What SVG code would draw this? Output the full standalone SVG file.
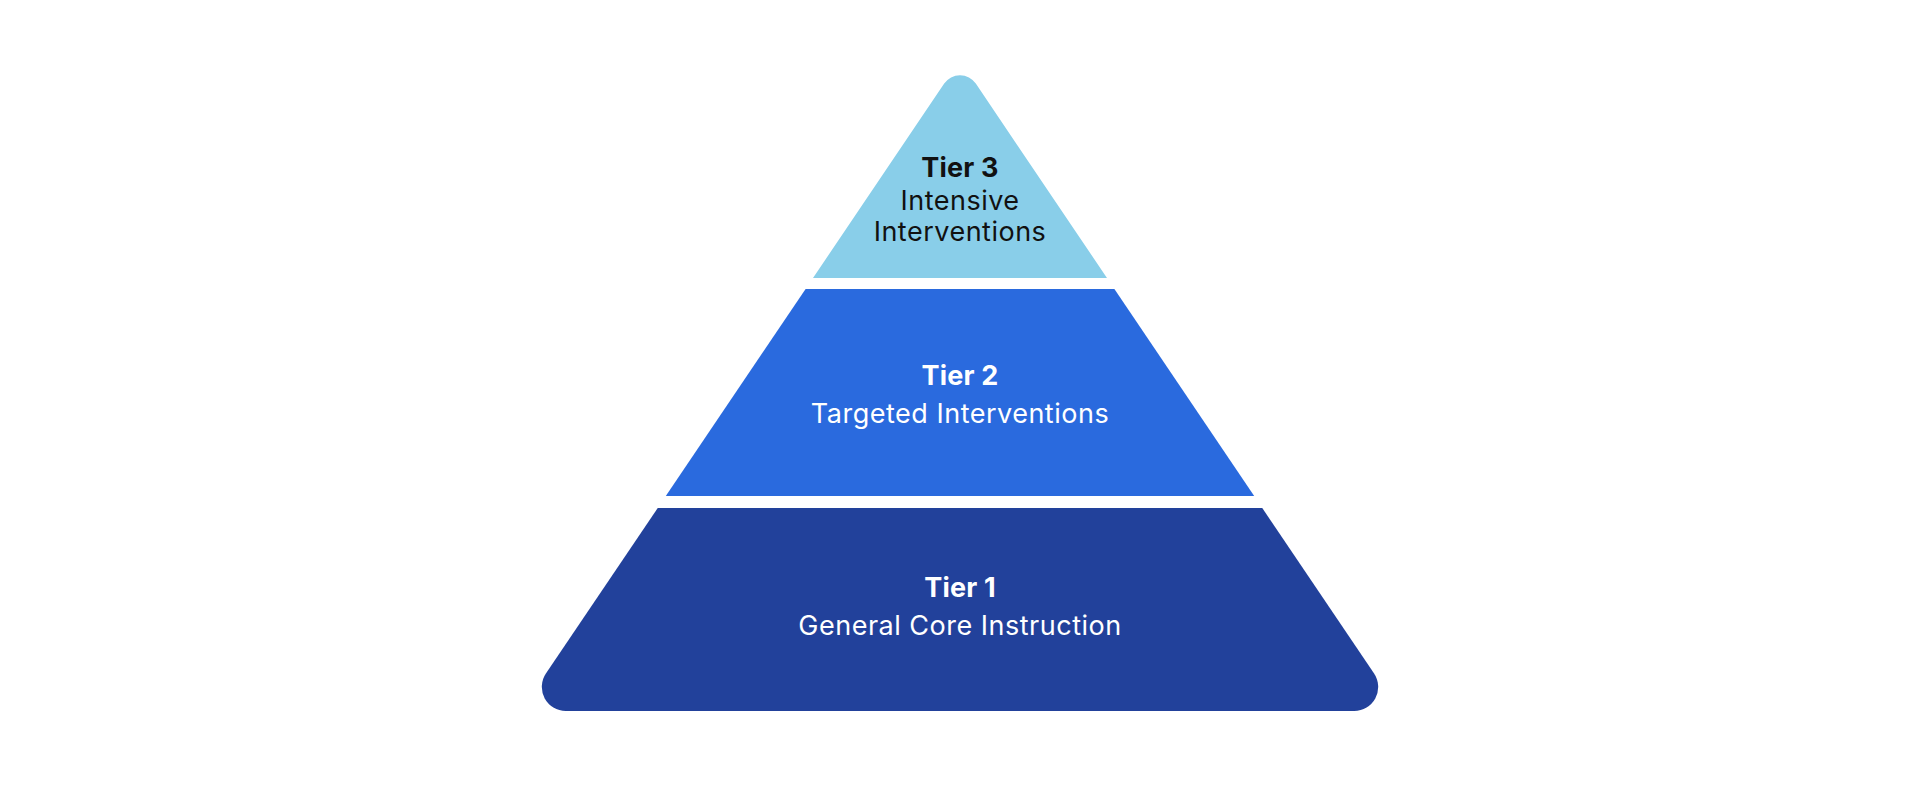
<svg xmlns="http://www.w3.org/2000/svg" width="1920" height="787" viewBox="0 0 1920 787">
  <style>
    .t { font-family: Inter, "Noto Sans", "Liberation Sans", sans-serif; font-size: 27px; text-anchor: middle; }
    .b { font-weight: 700; letter-spacing: 0.2px; }
    .s { letter-spacing: 0.5px; }
    .dark { fill: #111111; }
    .light { fill: #ffffff; }
  </style>
  <rect width="1920" height="787" fill="#ffffff"/>
  <g id="tier3">
    <path d="M 813 278 L 944.2 83.6 A 19 19 0 0 1 975.8 83.6 L 1107 278 Z" fill="#89CEE9"/>
    <text class="t b dark" x="960" y="177">Tier 3</text>
    <text class="t s dark" x="960" y="210">Intensive</text>
    <text class="t s dark" x="960" y="241">Interventions</text>
  </g>
  <g id="tier2">
    <path d="M 805.6 289 L 1114.4 289 L 1254.2 496 L 665.8 496 Z" fill="#2A6ADE"/>
    <text class="t b light" x="960" y="385">Tier 2</text>
    <text class="t s light" x="960" y="423">Targeted Interventions</text>
  </g>
  <g id="tier1">
    <path d="M 657.75 508 L 1262.25 508 L 1374.1 673.6 A 24 24 0 0 1 1354.2 711 L 565.8 711 A 24 24 0 0 1 545.9 673.6 Z" fill="#22419B"/>
    <text class="t b light" x="960" y="597">Tier 1</text>
    <text class="t s light" x="960" y="635">General Core Instruction</text>
  </g>
  <g id="connectors"></g>
</svg>
